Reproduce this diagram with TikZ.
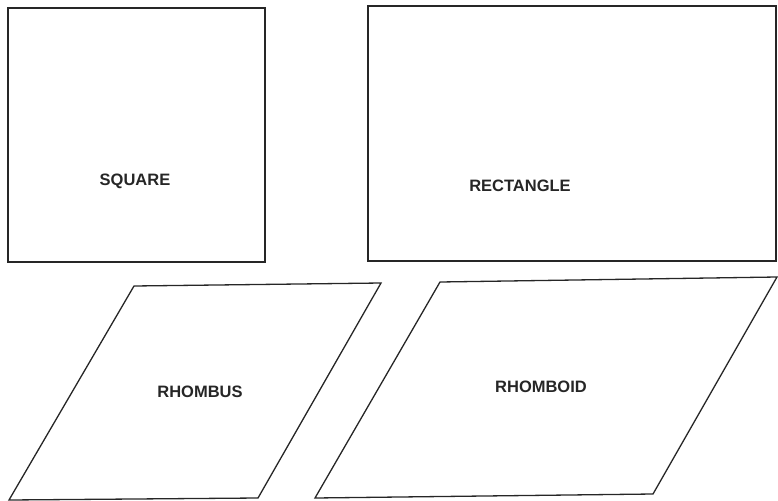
\documentclass[tikz,border=0pt]{standalone}
\usepackage{fontspec}
\setmainfont{Liberation Sans}
\usetikzlibrary{positioning, calc}

\begin{document}
\begin{tikzpicture}[
    x=1pt, y=-1pt,
    figure/.style={draw=black!85, line width=1.3pt, line join=miter},
    label/.style={font=\fontsize{16.5}{16.5}\selectfont\bfseries, text=black!85}
]
\useasboundingbox (0,0) rectangle (778,500);
% upper row
\draw[figure] (8,8) rectangle (265,262);
\draw[figure] (368,6) rectangle (776,261);
% lower row
\draw[figure] (134,286) -- (381,283) -- (258,498) -- (9,500) -- cycle;
\draw[figure] (440,282) -- (777,277) -- (653,494) -- (315,498) -- cycle;
% names
\node[label] (square) at (135,181) {SQUARE};
\node[label] (rectangle) at (520,186) {RECTANGLE};
\node[label] (rhombus) at (200,392) {RHOMBUS};
\node[label] (rhomboid) at (541,387) {RHOMBOID};
\end{tikzpicture}
\end{document}
